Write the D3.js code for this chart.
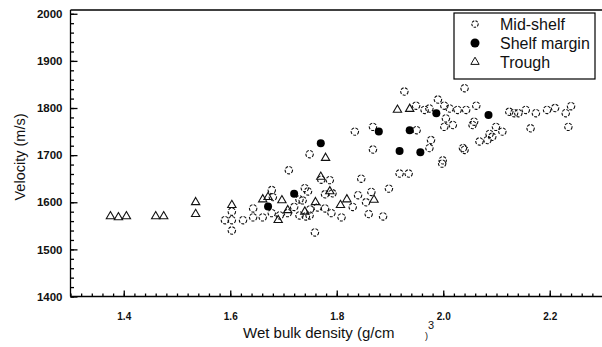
<!DOCTYPE html>
<html>
<head>
<meta charset="utf-8">
<script src="https://cdn.jsdelivr.net/npm/d3@7/dist/d3.min.js"></script>
<style>
  body { margin: 0; background: #fff; }
  svg { display: block; font-family: "Liberation Sans", Arial, sans-serif; }
</style>
</head>
<body>
<svg id="chart" width="602" height="347"></svg>
<script>
// [wet bulk density, velocity]
const midShelf = [
  [1.59, 1562], [1.603, 1562], [1.603, 1540], [1.603, 1580], [1.624, 1562], [1.643, 1568],
  [1.643, 1587], [1.661, 1568], [1.678, 1577], [1.693, 1572], [1.708, 1577], [1.68, 1611],
  [1.678, 1626], [1.71, 1668], [1.73, 1606], [1.736, 1604], [1.73, 1572], [1.742, 1570],
  [1.749, 1572], [1.74, 1630], [1.746, 1623], [1.749, 1702], [1.764, 1589], [1.778, 1587],
  [1.79, 1577], [1.778, 1617], [1.792, 1619], [1.771, 1648], [1.787, 1647], [1.809, 1568],
  [1.759, 1536], [1.72, 1590], [1.75, 1585], [1.83, 1590], [1.86, 1575],
  [1.834, 1750], [1.868, 1760], [1.868, 1712], [1.846, 1650], [1.865, 1622], [1.84, 1615],
  [1.887, 1570], [1.898, 1629], [1.918, 1661], [1.935, 1661], [1.95, 1753], [1.974, 1715],
  [1.977, 1732], [1.999, 1689], [1.998, 1682], [1.927, 1835], [1.949, 1805], [1.965, 1796],
  [1.974, 1799], [2.002, 1805], [2.012, 1799], [2.027, 1796], [2.043, 1796], [2.062, 1805],
  [2.005, 1778], [2.018, 1764], [2.002, 1760], [2.058, 1771], [2.055, 1764], [2.037, 1715],
  [2.068, 1729], [2.04, 1842], [2.04, 1711], [2.083, 1732], [2.092, 1739], [2.087, 1745],
  [2.099, 1760], [2.111, 1750], [2.124, 1792], [2.133, 1789], [2.141, 1789], [2.155, 1796],
  [2.174, 1789], [2.164, 1757], [2.195, 1796], [2.21, 1800], [2.23, 1789], [2.24, 1804],
  [2.235, 1760], [1.99, 1818], [1.855, 1600]
];

const shelfMargin = [
  [1.671, 1591], [1.72, 1618], [1.77, 1725], [1.879, 1750], [1.937, 1753],
  [1.918, 1709], [1.957, 1706], [1.987, 1789], [2.085, 1785]
];

const trough = [
  [1.375, 1570], [1.39, 1568], [1.405, 1570], [1.46, 1570], [1.475, 1570], [1.535, 1600],
  [1.535, 1575], [1.603, 1594], [1.661, 1606], [1.671, 1611], [1.697, 1604], [1.708, 1583],
  [1.69, 1562], [1.76, 1600], [1.77, 1654], [1.779, 1694], [1.787, 1623], [1.807, 1594],
  [1.819, 1606], [1.914, 1796], [1.937, 1798], [1.74, 1580], [1.87, 1605]
];

const xTicks = [1.4, 1.6, 1.8, 2.0, 2.2];
const yTicks = [1400, 1500, 1600, 1700, 1800, 1900, 2000];
const legendItems = ["Mid-shelf", "Shelf margin", "Trough"];

const svg = d3.select("#chart");
svg.append("rect").attr("width", 602).attr("height", 347).attr("fill", "#fff");

const x = d3.scaleLinear().domain([1.3, 2.3]).range([70.5, 603]);
const y = d3.scaleLinear().domain([1400, 2008]).range([296.5, 10]);

const minorX = d3.range(1.3, 2.301, 0.02);
const minorY = d3.range(1400, 2001, 20);

// minor ticks first, no labels
svg.append("g").attr("transform", "translate(0,296.5)")
  .call(d3.axisBottom(x).tickValues(minorX).tickSize(-3).tickSizeOuter(0).tickFormat(""))
  .call(g => g.select(".domain").remove());
svg.append("g").attr("transform", "translate(70.5,0)")
  .call(d3.axisLeft(y).tickValues(minorY).tickSize(-3.5).tickSizeOuter(0).tickFormat(""))
  .call(g => g.select(".domain").remove());

const xAxis = svg.append("g").attr("transform", "translate(0,296.5)")
  .call(d3.axisBottom(x).tickValues(xTicks).tickSize(-6).tickSizeOuter(0)
    .tickPadding(16).tickFormat(d3.format(".1f")));
xAxis.selectAll("text").attr("font-size", 10).attr("font-weight", "bold").attr("fill", "#111");

const yAxis = svg.append("g").attr("transform", "translate(70.5,0)")
  .call(d3.axisLeft(y).tickValues(yTicks).tickSize(-7).tickSizeOuter(0)
    .tickPadding(8).tickFormat(d3.format("d")));
yAxis.selectAll("text").attr("font-size", 11.5).attr("font-weight", "bold").attr("fill", "#111");

svg.selectAll(".domain, .tick line").attr("stroke", "#000").attr("stroke-width", 1.3);
xAxis.select(".domain").attr("d", "M70.5,0H603");
yAxis.select(".domain").attr("d", "M0,296.5V10");

// top frame line
svg.append("line").attr("x1", 70.5).attr("x2", 602).attr("y1", 10).attr("y2", 10)
  .attr("stroke", "#000").attr("stroke-width", 1.3);

// axis titles
svg.append("text")
  .attr("transform", "translate(25,157) rotate(-90)")
  .attr("text-anchor", "middle").attr("font-size", 14.5).attr("fill", "#111")
  .text("Velocity (m/s)");
svg.append("text").attr("x", 243).attr("y", 338).attr("font-size", 15).attr("fill", "#111")
  .text("Wet bulk density (g/cm");
svg.append("text").attr("x", 428).attr("y", 329).attr("font-size", 11).attr("fill", "#111").text("3");
svg.append("text").attr("x", 425).attr("y", 339).attr("font-size", 9).attr("fill", "#111").text(")");

// points
const plot = svg.append("g");
plot.selectAll(".mid").data(midShelf).join("circle").attr("class", "mid")
  .attr("cx", d => x(d[0])).attr("cy", d => y(d[1])).attr("r", 3.7)
  .attr("fill", "none").attr("stroke", "#111").attr("stroke-width", 1.1)
  .attr("stroke-dasharray", "3 1.4");

const tri = d3.symbol(d3.symbolTriangle).size(30);
plot.selectAll(".tro").data(trough).join("path").attr("class", "tro")
  .attr("transform", d => `translate(${x(d[0])},${y(d[1])})`)
  .attr("d", tri).attr("fill", "none").attr("stroke", "#111").attr("stroke-width", 1.1);

plot.selectAll(".sm").data(shelfMargin).join("circle").attr("class", "sm")
  .attr("cx", d => x(d[0])).attr("cy", d => y(d[1])).attr("r", 4)
  .attr("fill", "#000");

// legend
const lg = svg.append("g");
lg.append("rect").attr("x", 454).attr("y", 13).attr("width", 141).attr("height", 66)
  .attr("fill", "#fff").attr("stroke", "#000").attr("stroke-width", 1.2);
const ly = [24, 43, 62];
lg.append("circle").attr("cx", 475).attr("cy", ly[0]).attr("r", 3.2)
  .attr("fill", "none").attr("stroke", "#111").attr("stroke-width", 1.1).attr("stroke-dasharray", "2.5 1.3");
lg.append("circle").attr("cx", 475).attr("cy", ly[1]).attr("r", 4.5).attr("fill", "#000");
lg.append("path").attr("transform", `translate(475,${ly[2]})`).attr("d", tri)
  .attr("fill", "none").attr("stroke", "#111").attr("stroke-width", 1);
lg.selectAll(".lt").data(legendItems).join("text").attr("class", "lt")
  .attr("x", 500).attr("y", (d, i) => ly[i]).attr("dy", "0.35em")
  .attr("font-size", 16).attr("fill", "#111").text(d => d);
</script>
</body>
</html>
